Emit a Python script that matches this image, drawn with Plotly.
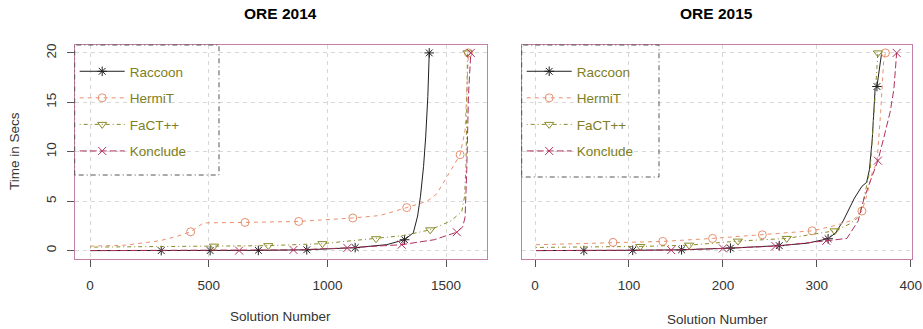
import plotly.graph_objects as go

W, H = 923, 329

# ---------------- data ----------------
series_names = ["Raccoon", "HermiT", "FaCT++", "Konclude"]

# ORE 2014
raccoon_2014_x = [1, 300, 506, 709, 913, 1117, 1250, 1325, 1362, 1380, 1392, 1405, 1414, 1423, 1429]
raccoon_2014_y = [0.0, 0.0, 0.0, 0.02, 0.08, 0.3, 0.6, 1.1, 1.8, 3.5, 5.5, 8.5, 11.5, 15.6, 20]
raccoon_2014_marks = [300, 506, 709, 913, 1117, 1325, 1429]

hermit_2014_x = [1, 150, 295, 360, 424, 478, 653, 879, 1107, 1222, 1334, 1420, 1461, 1503, 1559, 1580, 1594]
hermit_2014_y = [0.45, 0.55, 1.0, 1.4, 1.9, 2.8, 2.85, 2.95, 3.3, 3.55, 4.35, 5.0, 5.75, 7.45, 9.7, 12.2, 20]
hermit_2014_marks = [424, 653, 879, 1107, 1334, 1559, 1594]

fact_2014_x = [1, 522, 751, 979, 1205, 1320, 1433, 1520, 1566, 1578, 1584, 1590]
fact_2014_y = [0.35, 0.45, 0.5, 0.7, 1.2, 1.52, 2.1, 3.0, 3.95, 5.5, 8.8, 20]
fact_2014_marks = [522, 751, 979, 1205, 1433, 1590]

konclude_2014_x = [1, 628, 857, 1084, 1313, 1450, 1545, 1570, 1580, 1587, 1594, 1604]
konclude_2014_y = [0.0, 0.0, 0.07, 0.27, 0.6, 1.1, 1.86, 2.4, 3.4, 8.1, 15.6, 20]
konclude_2014_marks = [628, 857, 1084, 1313, 1545, 1604]

# ORE 2015
raccoon_2015_x = [1, 52, 104, 156, 208, 260, 290, 312, 320, 328, 334, 340, 348, 353, 356, 359, 362, 364, 369]
raccoon_2015_y = [0.0, 0.0, 0.03, 0.08, 0.25, 0.5, 0.75, 1.2, 1.8, 3.0, 4.2, 5.3, 6.5, 6.9, 8.2, 11.3, 16.3, 16.6, 20]
raccoon_2015_marks = [52, 104, 156, 208, 260, 312, 364]

hermit_2015_x = [1, 83, 136, 189, 242, 295, 318, 339, 348, 353, 359, 364, 368, 371, 373]
hermit_2015_y = [0.59, 0.83, 0.93, 1.23, 1.6, 2.0, 2.5, 3.1, 4.0, 5.5, 7.9, 8.9, 14, 19, 20]
hermit_2015_marks = [83, 136, 189, 242, 295, 348, 373]

fact_2015_x = [1, 112, 164, 216, 268, 319, 335, 344, 349, 353, 357, 362, 365]
fact_2015_y = [0.32, 0.42, 0.55, 0.96, 1.23, 2.0, 2.7, 3.35, 4.8, 6.5, 8.3, 15.6, 20]
fact_2015_marks = [112, 164, 216, 268, 319, 365]

konclude_2015_x = [1, 145, 200, 256, 310, 318, 332, 344, 350, 357, 365, 371, 378, 382, 385]
konclude_2015_y = [0.0, 0.05, 0.22, 0.45, 0.99, 1.1, 1.23, 3.0, 5.2, 7.05, 9.1, 11.3, 14, 16.3, 20]
konclude_2015_marks = [145, 200, 256, 310, 365, 385]

x_ticks_2014 = [0, 500, 1000, 1500]
x_ticks_2015 = [0, 100, 200, 300, 400]
y_ticks = [0, 5, 10, 15, 20]

# ---------------- style ----------------
colors = {"Raccoon": "#202020", "HermiT": "#E8906E", "FaCT++": "#8A8A2A", "Konclude": "#B03060"}
dashes = {"Raccoon": "solid", "HermiT": "4px,4px", "FaCT++": "1px,3px,4px,3px", "Konclude": "7px,3px"}
symbols = {"Raccoon": "asterisk-open", "HermiT": "circle-open",
           "FaCT++": "triangle-down-open", "Konclude": "x-thin-open"}
legend_text = "#7E7E22"
box_color = "#C47FA6"
FONT = "Liberation Sans, Arial, sans-serif"

panels = [
    ("x", "y", "legend", {
        "Raccoon": (raccoon_2014_x, raccoon_2014_y, raccoon_2014_marks),
        "HermiT": (hermit_2014_x, hermit_2014_y, hermit_2014_marks),
        "FaCT++": (fact_2014_x, fact_2014_y, fact_2014_marks),
        "Konclude": (konclude_2014_x, konclude_2014_y, konclude_2014_marks),
    }),
    ("x2", "y2", "legend2", {
        "Raccoon": (raccoon_2015_x, raccoon_2015_y, raccoon_2015_marks),
        "HermiT": (hermit_2015_x, hermit_2015_y, hermit_2015_marks),
        "FaCT++": (fact_2015_x, fact_2015_y, fact_2015_marks),
        "Konclude": (konclude_2015_x, konclude_2015_y, konclude_2015_marks),
    }),
]

fig = go.Figure()
for xa, ya, lg, data in panels:
    for name in series_names:
        xs, ys, marks = data[name]
        fig.add_trace(go.Scatter(
            x=xs, y=ys, mode="lines", xaxis=xa, yaxis=ya, showlegend=False,
            line=dict(color=colors[name], width=1, dash=dashes[name]), hoverinfo="skip"))
        mx = [x for x in xs if x in marks]
        my = [y for x, y in zip(xs, ys) if x in marks]
        fig.add_trace(go.Scatter(
            x=mx, y=my, mode="markers", xaxis=xa, yaxis=ya, showlegend=False,
            marker=dict(symbol=symbols[name], size=8, color=colors[name],
                        line=dict(width=1, color=colors[name])), hoverinfo="skip"))
    for name in series_names:
        fig.add_trace(go.Scatter(
            x=[None], y=[None], mode="lines+markers", xaxis=xa, yaxis=ya, name=name,
            legend=lg, legendgroup=lg + name,
            line=dict(color=colors[name], width=1, dash=dashes[name]),
            marker=dict(symbol=symbols[name], size=8, color=colors[name],
                        line=dict(width=1, color=colors[name]))))

# pixel geometry
L1, R1 = 74.7, 486.7
L2, R2 = 521.7, 911.7
TOP, BOT = 45, 258.5

def px(v):
    return v / W

def py(v):
    return 1 - v / H

axis_common = dict(
    showline=True, mirror=True, linecolor=box_color, linewidth=1,
    showgrid=True, gridcolor="#D8D8D8", griddash="4px,4px", gridwidth=1,
    zeroline=False, ticks="outside", ticklen=7, tickcolor="#555555",
    tickfont=dict(family=FONT, size=13.5, color="#333333"),
)

fig.update_layout(
    width=W, height=H, margin=dict(l=0, r=0, t=0, b=0, autoexpand=False),
    paper_bgcolor="white", plot_bgcolor="white",
    font=dict(family=FONT, size=13.5, color="#333333"),
    xaxis=dict(domain=[px(L1), px(R1)], range=[-64.5, 1671], tickvals=x_ticks_2014,
               anchor="y", ticklabelstandoff=7, **axis_common),
    yaxis=dict(domain=[py(BOT), py(TOP)], range=[-0.8, 20.8], tickvals=y_ticks,
               anchor="x", tickangle=-90, ticklabelstandoff=5, **axis_common),
    xaxis2=dict(domain=[px(L2), px(R2)], range=[-14.2, 401], tickvals=x_ticks_2015,
                anchor="y2", ticklabelstandoff=7, **axis_common),
    yaxis2=dict(domain=[py(BOT), py(TOP)], range=[-0.8, 20.8], tickvals=y_ticks,
                anchor="x2", showticklabels=False,
                **{k: v for k, v in axis_common.items() if k not in ("ticks",)}, ticks=""),
    legend=dict(x=px(L1), y=py(TOP + 11), xanchor="left", yanchor="top",
                bgcolor="rgba(0,0,0,0)", borderwidth=0, itemwidth=45,
                tracegroupgap=6, font=dict(family=FONT, size=13.5, color=legend_text)),
    legend2=dict(x=px(L2), y=py(TOP + 11), xanchor="left", yanchor="top",
                 bgcolor="rgba(0,0,0,0)", borderwidth=0, itemwidth=45,
                 tracegroupgap=6, font=dict(family=FONT, size=13.5, color=legend_text)),
    showlegend=True,
)

# legend boxes
fig.add_shape(type="rect", xref="paper", yref="paper",
              x0=px(L1), x1=px(219), y0=py(175), y1=py(TOP),
              line=dict(color="#555555", width=1, dash="1px,3px,5px,3px"))
fig.add_shape(type="rect", xref="paper", yref="paper",
              x0=px(L2), x1=px(659), y0=py(177), y1=py(TOP),
              line=dict(color="#555555", width=1, dash="1px,3px,5px,3px"))

# titles and axis labels
def label(text, x, y, size=13.5, color="#333333", angle=0):
    fig.add_annotation(text=text, x=px(x), y=py(y), xref="paper", yref="paper",
                       xanchor="center", yanchor="middle", showarrow=False,
                       textangle=angle, font=dict(family=FONT, size=size, color=color))

label("<b>ORE 2014</b>", (L1 + R1) / 2, 14, size=15.5, color="black")
label("<b>ORE 2015</b>", (L2 + R2) / 2, 14, size=15.5, color="black")
label("Solution Number", 280, 316)
label("Solution Number", 717, 319)
label("Time in Secs", 14, 151, angle=-90)

fig.write_html("out.html", config={"displayModeBar": False},
               post_script="document.body.style.margin='0';document.body.style.overflow='hidden';")
